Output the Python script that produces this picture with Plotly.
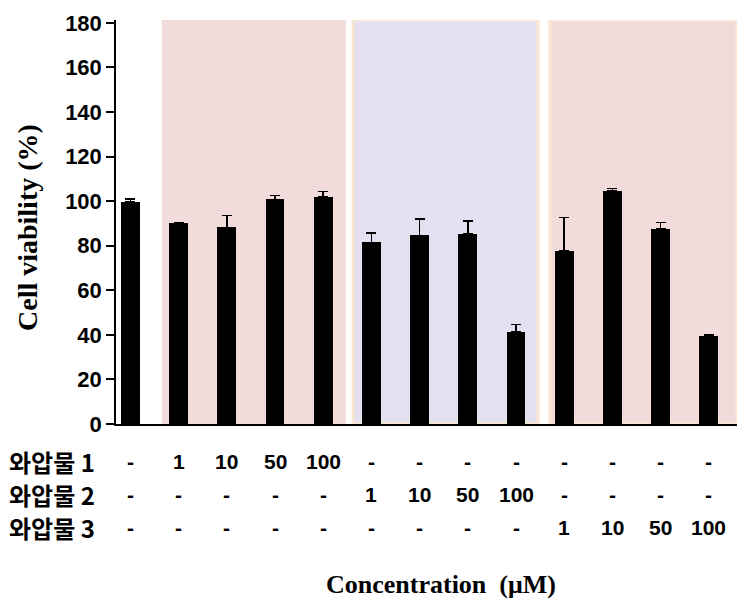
import plotly.graph_objects as go

# ---- data ----
viability = [99.6, 90.0, 88.2, 100.8, 102.0, 81.5, 84.6, 85.3, 41.4, 77.7, 104.6, 87.5, 39.6]
error_up = [1.5, 0.5, 5.3, 1.7, 2.3, 4.2, 7.3, 5.7, 3.2, 15.0, 1.0, 2.9, 0.5]
row_names = ["와압물 1", "와압물 2", "와압물 3"]
row1 = ["-", "1", "10", "50", "100", "-", "-", "-", "-", "-", "-", "-", "-"]
row2 = ["-", "-", "-", "-", "-", "1", "10", "50", "100", "-", "-", "-", "-"]
row3 = ["-", "-", "-", "-", "-", "-", "-", "-", "-", "1", "10", "50", "100"]
y_ticks = [0, 20, 40, 60, 80, 100, 120, 140, 160, 180]
y_title = "Cell viability (%)"
x_title = "Concentration\u00a0\u00a0(μM)"

x = list(range(len(viability)))

W, H = 741, 604
L, R, T, B = 116, 4, 20, 180
plot_w = W - L - R
plot_h = H - T - B


def px_to_paper_y(ypix):
    return (H - B - ypix) / plot_h


def px_to_paper_x(xpix):
    return (xpix - L) / plot_w


fig = go.Figure()
fig.add_trace(go.Bar(
    x=x, y=viability, width=0.39,
    marker=dict(color="black", line=dict(width=0)),
    error_y=dict(type="data", array=error_up, arrayminus=[0] * len(error_up),
                 symmetric=False, color="black", thickness=1.6, width=5),
    showlegend=False,
))

# shaded group backgrounds
bands = [
    (0.65, 4.47, "#f2dcdb", None),
    (4.62, 8.46, "#e5e0ef", "#fbe5d3"),
    (8.70, 12.58, "#f2dcdb", "#fbe5d3"),
]
shapes = []
for x0, x1, fill, border in bands:
    shapes.append(dict(
        type="rect", xref="x", yref="y", x0=x0, x1=x1, y0=0, y1=181.3,
        fillcolor=fill, layer="below",
        line=dict(color=border if border else fill, width=3 if border else 0),
    ))

annotations = []
row_font = dict(family="Liberation Sans, Arial, Noto Sans CJK KR", size=21, color="black", weight="bold")
row_y = [461, 494, 527]
for name, vals, yp in zip(row_names, [row1, row2, row3], row_y):
    annotations.append(dict(
        x=px_to_paper_x(7), y=px_to_paper_y(yp), xref="paper", yref="paper",
        text=name, showarrow=False, xanchor="left", yanchor="middle",
        font=dict(family="Noto Sans CJK KR, Liberation Sans", size=24, color="black", weight="bold"),
    ))
    for xi, v in zip(x, vals):
        annotations.append(dict(
            x=xi, y=px_to_paper_y(yp), xref="x", yref="paper",
            text=v, showarrow=False, xanchor="center", yanchor="middle",
            font=row_font,
        ))

annotations.append(dict(
    x=px_to_paper_x(27), y=px_to_paper_y(228), xref="paper", yref="paper",
    text=y_title, textangle=-90, showarrow=False, xanchor="center", yanchor="middle",
    font=dict(family="Liberation Serif, Times New Roman", size=28, color="black", weight="bold"),
))
annotations.append(dict(
    x=px_to_paper_x(441), y=px_to_paper_y(584), xref="paper", yref="paper",
    text=x_title, showarrow=False, xanchor="center", yanchor="middle",
    font=dict(family="Liberation Serif, Times New Roman", size=26, color="black", weight="bold"),
))

fig.update_layout(
    width=W, height=H,
    margin=dict(l=L, r=R, t=T, b=B, pad=0),
    plot_bgcolor="white", paper_bgcolor="white",
    shapes=shapes, annotations=annotations,
    bargap=0,
    xaxis=dict(range=[-0.299, 12.585], showticklabels=False, ticks="",
               showgrid=False, zeroline=False, showline=True,
               linecolor="black", linewidth=1.5),
    yaxis=dict(range=[0, 181.3], tickvals=y_ticks, ticks="outside", ticklen=8,
               tickwidth=1.5, tickcolor="black", showgrid=False, zeroline=False,
               showline=True, linecolor="black", linewidth=1.5,
               tickfont=dict(family="Liberation Sans, Arial", size=22, color="black", weight="bold")),
)

fig.write_html("out.html")
